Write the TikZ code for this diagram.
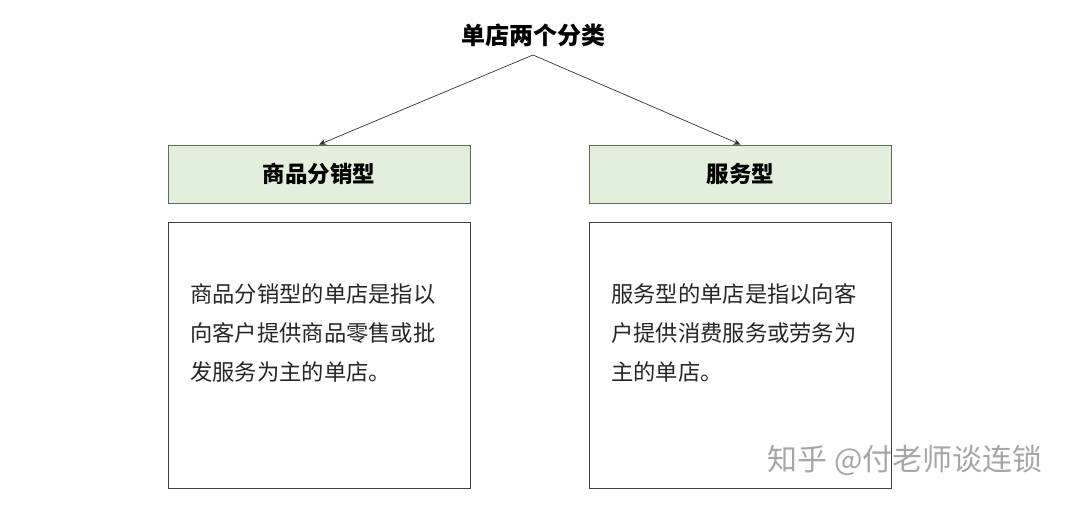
\documentclass[tikz,border=0pt]{standalone}
\usepackage{fontspec}
\usetikzlibrary{arrows.meta}
\setmainfont{Noto Sans CJK SC}
\newfontfamily\cjk{Noto Sans CJK SC}
\begin{document}
\begin{tikzpicture}[x=1pt,y=-1pt,
  hdr/.style={draw=black!60,fill={rgb,255:red,226;green,239;blue,218},line width=0.8pt,minimum width=302pt,minimum height=58pt,inner sep=0pt,font=\cjk\bfseries\fontsize{22.5}{26}\selectfont},
  body/.style={draw=black!75,line width=0.8pt,minimum width=302pt,minimum height=266pt,inner sep=0pt},
  txt/.style={anchor=north west,align=left,inner sep=0pt,font=\cjk\fontsize{22.3}{39}\selectfont,text=black!85},
  arr/.style={draw=black!80,line width=0.7pt,-{Stealth[length=7pt,width=6pt]}}]
\useasboundingbox (0,0) rectangle (1080,505);
\node[font=\cjk\bfseries\fontsize{24}{28}\selectfont] (title) at (533,35) {单店两个分类};
\coordinate (top) at (533,55);
\node[hdr] (h1) at (319,174) {商品分销型};
\node[hdr] (h2) at (740.5,174) {服务型};
\node[body] (b1) at (319,355) {};
\node[body] (b2) at (740.5,355) {};
\draw[arr] (top) -- (h1.north);
\draw[arr] (top) -- (h2.north);
\node[txt] (t1) at (190,283) {商品分销型的单店是指以\\向客户提供商品零售或批\\发服务为主的单店。};
\node[txt] (t2) at (611,283) {服务型的单店是指以向客\\户提供消费服务或劳务为\\主的单店。};
\node[font=\cjk\fontsize{30}{33}\selectfont,text=black!35] (wm) at (905,460) {知乎 @付老师谈连锁};
\end{tikzpicture}
\end{document}
